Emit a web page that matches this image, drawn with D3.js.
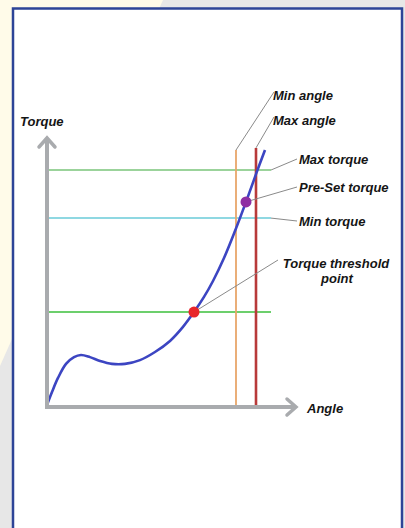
<!DOCTYPE html>
<html>
<head>
<meta charset="utf-8">
<script src="https://cdn.jsdelivr.net/npm/d3@7"></script>
<style>
  body { margin: 0; padding: 0; }
  svg { display: block; }
</style>
</head>
<body>
<div id="chart"></div>
<script>
// chart data (arbitrary angle / torque units)
var curveAngle  = [0, 2, 4.4, 7.6, 10.8, 13.6, 17.2, 21.2, 26, 31.2, 37.2, 43.2, 49.2, 54.4, 58.8, 62.8, 66.4, 70.8, 75.2, 79.6, 83.6, 87.2];
var curveTorque = [0.4, 5.2, 10.4, 15.6, 18.1, 18.9, 18.1, 16.7, 15.6, 15.6, 17, 20, 24.1, 29.3, 34.8, 40.4, 46.3, 54.8, 64.8, 75.6, 85.9, 94.8];

var torqueNames  = ["Max torque", "Min torque", "threshold"];
var torqueLevels = [87.4, 69.6, 34.8];
var angleNames   = ["Min angle", "Max angle"];
var angleLevels  = [75.6, 83.6];
var angleTops    = [94.8, 95.6];

var pointNames  = ["Torque threshold point", "Pre-Set torque"];
var pointAngle  = [58.8, 79.6];
var pointTorque = [34.8, 75.6];

var lineEnd = 89.6;

// svg size
var svgWidth = 405;
var svgHeight = 528;

var svg = d3.select("#chart")
    .append("svg")
    .attr("width", svgWidth)
    .attr("height", svgHeight);

// page background
svg.append("rect")
    .attr("width", svgWidth)
    .attr("height", svgHeight)
    .attr("fill", "#e7e7e7");
svg.append("polygon")
    .attr("points", "0,0 163,0 0,366")
    .attr("fill", "#fffbe9");

// white panel with blue border
svg.append("rect")
    .attr("x", 13)
    .attr("y", 8.5)
    .attr("width", 389)
    .attr("height", 530)
    .attr("fill", "#ffffff")
    .attr("stroke", "#2d4497")
    .attr("stroke-width", 2.5);

// scales
var xscale = d3.scaleLinear()
    .domain([0, 100])
    .range([47, 297]);

var yscale = d3.scaleLinear()
    .domain([0, 100])
    .range([406, 136]);

var chart = svg.append("g");

// horizontal torque lines
var hColors = ["#9bd39b", "#8fd8e2", "#6ccf6c"];
chart.selectAll(".hline")
    .data(torqueLevels)
    .enter()
    .append("line")
    .attr("x1", xscale(0) + 2)
    .attr("x2", xscale(lineEnd))
    .attr("y1", d => yscale(d))
    .attr("y2", d => yscale(d))
    .attr("stroke", (d, i) => hColors[i])
    .attr("stroke-width", 2);

// vertical angle lines
var vColors = ["#e8a66a", "#b83a3a"];
var vWidths = [1.8, 2.6];
chart.selectAll(".vline")
    .data(angleLevels)
    .enter()
    .append("line")
    .attr("x1", d => xscale(d))
    .attr("x2", d => xscale(d))
    .attr("y1", yscale(0))
    .attr("y2", (d, i) => yscale(angleTops[i]))
    .attr("stroke", (d, i) => vColors[i])
    .attr("stroke-width", (d, i) => vWidths[i]);

// torque curve
var curveData = curveAngle.map((a, i) => [a, curveTorque[i]]);
var line = d3.line()
    .x(d => xscale(d[0]))
    .y(d => yscale(d[1]))
    .curve(d3.curveCatmullRom);

chart.append("path")
    .datum(curveData)
    .attr("d", line)
    .attr("fill", "none")
    .attr("stroke", "#3c45c2")
    .attr("stroke-width", 2.6);

// axes (grey arrows)
var axisColor = "#a9abae";
chart.append("line")
    .attr("x1", xscale(0))
    .attr("x2", xscale(0))
    .attr("y1", yscale(0) + 3)
    .attr("y2", yscale(100) + 2)
    .attr("stroke", axisColor)
    .attr("stroke-width", 4);
chart.append("line")
    .attr("x1", xscale(0) - 2)
    .attr("x2", xscale(100) - 1)
    .attr("y1", yscale(0) + 1)
    .attr("y2", yscale(0) + 1)
    .attr("stroke", axisColor)
    .attr("stroke-width", 4);
chart.append("path")
    .attr("d", `M${xscale(0) - 8},${yscale(100) + 11} L${xscale(0)},${yscale(100) + 2} L${xscale(0) + 8},${yscale(100) + 11}`)
    .attr("fill", "none")
    .attr("stroke", axisColor)
    .attr("stroke-width", 3.5)
    .attr("stroke-linecap", "round");
chart.append("path")
    .attr("d", `M${xscale(100) - 10},${yscale(0) - 7} L${xscale(100) - 1},${yscale(0) + 1} L${xscale(100) - 10},${yscale(0) + 9}`)
    .attr("fill", "none")
    .attr("stroke", axisColor)
    .attr("stroke-width", 3.5)
    .attr("stroke-linecap", "round");

// leader lines for labels
var leaders = [
    [xscale(angleLevels[0]), yscale(angleTops[0]), 274, 92],
    [xscale(angleLevels[1]), yscale(angleTops[1]), 274, 117],
    [xscale(lineEnd), yscale(torqueLevels[0]), 297, 159],
    [xscale(pointAngle[1]), yscale(pointTorque[1]), 297, 187],
    [xscale(lineEnd), yscale(torqueLevels[1]), 297, 221],
    [xscale(pointAngle[0]), yscale(pointTorque[0]), 278, 260]
];
chart.selectAll(".leader")
    .data(leaders)
    .enter()
    .append("line")
    .attr("x1", d => d[0])
    .attr("y1", d => d[1])
    .attr("x2", d => d[2])
    .attr("y2", d => d[3])
    .attr("stroke", "#8a8a8a")
    .attr("stroke-width", 1);

// points
var pointColors = ["#e8262b", "#8e2fa3"];
chart.selectAll(".pt")
    .data(pointAngle)
    .enter()
    .append("circle")
    .attr("cx", d => xscale(d))
    .attr("cy", (d, i) => yscale(pointTorque[i]))
    .attr("r", 5.5)
    .attr("fill", (d, i) => pointColors[i]);

// labels
var labels = [
    ["Torque", 20, 126, "start"],
    ["Angle", 307, 413, "start"],
    [angleNames[0], 273, 100, "start"],
    [angleNames[1], 273, 125, "start"],
    [torqueNames[0], 299, 164, "start"],
    [pointNames[1], 299, 192, "start"],
    [torqueNames[1], 299, 226, "start"],
    ["Torque threshold", 336, 268, "middle"],
    ["point", 337, 283, "middle"]
];
chart.selectAll(".label")
    .data(labels)
    .enter()
    .append("text")
    .attr("x", d => d[1])
    .attr("y", d => d[2])
    .style("text-anchor", d => d[3])
    .style("font-family", "'Liberation Sans', Arial, sans-serif")
    .style("font-weight", "bold")
    .style("font-style", "italic")
    .style("font-size", "13px")
    .style("fill", "#151515")
    .text(d => d[0]);
</script>
</body>
</html>
